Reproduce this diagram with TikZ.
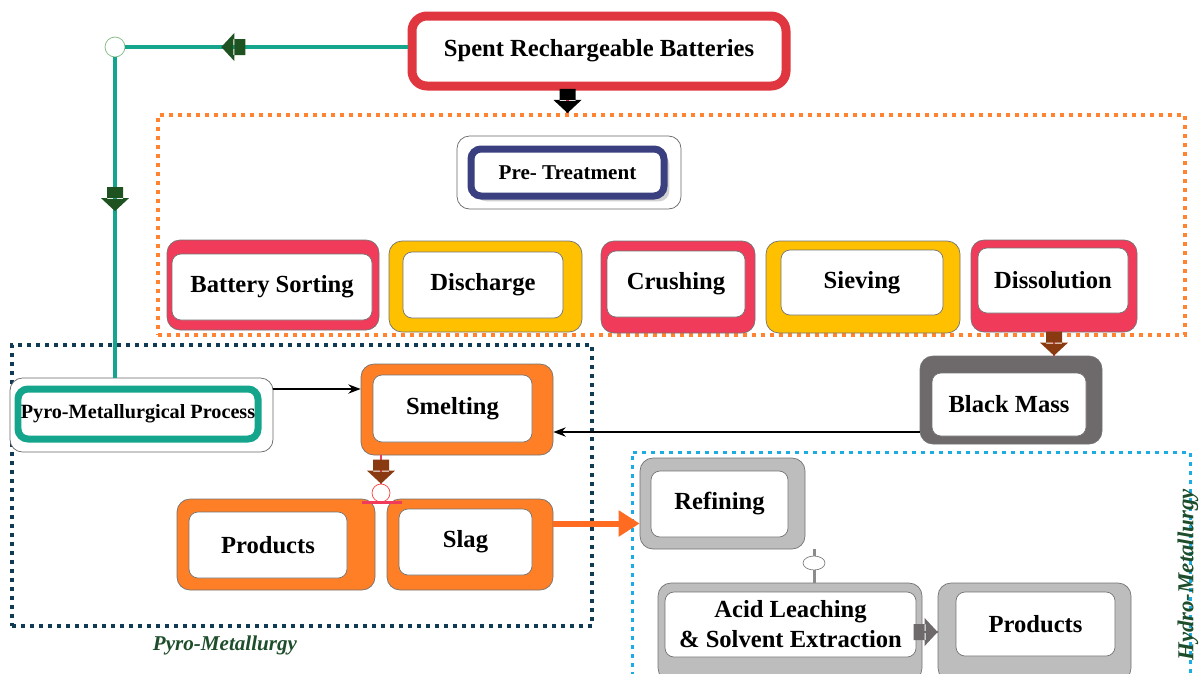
\documentclass[tikz,border=0pt]{standalone}
\usepackage{fontspec}
\setmainfont{Liberation Serif}
\usepackage{xcolor}
\usetikzlibrary{arrows.meta, positioning, fit, shadows, shapes.geometric, decorations.markings}

\definecolor{spentred}{HTML}{E0363F}
\definecolor{rowred}{HTML}{F03C5A}
\definecolor{amber}{HTML}{FFC000}
\definecolor{smeltorange}{HTML}{FF7F27}
\definecolor{massgray}{HTML}{6E6A6B}
\definecolor{hydrogray}{HTML}{BDBDBD}
\definecolor{tealline}{HTML}{14A58C}
\definecolor{navyedge}{HTML}{3A3F7F}
\definecolor{leafgreen}{HTML}{1E5221}
\definecolor{rustbrown}{HTML}{8A3A10}
\definecolor{pyronavy}{HTML}{113A55}
\definecolor{hydrocyan}{HTML}{1AACE3}
\definecolor{dotorange}{HTML}{FF8330}
\definecolor{labelgreen}{HTML}{1D4D2A}

\begin{document}
\begin{tikzpicture}[
  x=0.02cm, y=-0.02cm,
  txt/.style      = {font=\fontsize{14}{17}\selectfont\bfseries, align=center,
                     inner sep=0pt},
  outer/.style    = {draw=black!55, fill=#1, rounded corners=0.26cm,
                     inner sep=0pt, thin},
  inner/.style    = {draw=black!55, fill=white, rounded corners=0.18cm,
                     inner sep=0pt, label={[txt]center:#1}},
  zone/.style     = {line width=0.08cm, dash pattern=on 0.08cm off 0.1cm,
                     inner sep=0pt},
  arr/.style      = {-{Stealth[length=7pt]}, line width=0.05cm},
  fatarrow/.style 2 args = {postaction={decorate, decoration={markings,
      mark=at position #1 with {\fill[#2, sharp corners]
        (-24,-8) rectangle (-12,8) (-13,-14) -- (0,0) -- (-13,14) -- cycle;}}}},
  zonelabel/.style = {font=\fontsize{12}{14}\selectfont\bfseries\itshape,
                      text=labelgreen}
]
\clip (0,0) rectangle (1199,673);

%% ---- ZONES ----
\node[zone, draw=dotorange, fit={(158,115) (1185,335)}] (prezone) {};
\node[zone, draw=pyronavy, fit={(12,345) (592,626)}]    (pyrozone) {};
\node[zone, draw=hydrocyan, line width=0.06cm,
      fit={(632,452) (1190,700)}]                       (hydrozone) {};

%% ---- SOURCE ----
\node[draw=spentred, line width=0.18cm, fill=white, rounded corners=0.3cm,
      inner sep=0pt, fit={(412,16) (786,86)},
      label={[txt]center:Spent Rechargeable Batteries}] (spent) {};

%% ---- PRE-TREATMENT ----
\node[draw=black!60, fill=white, rounded corners=0.25cm, inner sep=0pt,
      fit={(457,136) (681,209)}] (ptback) {};
\node[draw=navyedge, line width=0.14cm, fill=white, rounded corners=0.2cm,
      drop shadow={shadow xshift=3pt, shadow yshift=-3pt, opacity=0.35},
      inner sep=0pt, fit={(471,149) (664,196)},
      label={[txt, font=\fontsize{12}{14}\selectfont\bfseries]center:Pre- Treatment}] (pretreat) {};

% steps
\node[outer=rowred, fit={(167,240) (379,330)}]  (bsO) {};
\node[inner=Battery Sorting, fit={(172,254) (372,320)}] (bs) {};
\node[outer=amber, fit={(389,241) (582,332)}]   (dcO) {};
\node[inner=Discharge, fit={(403,252) (563,318)}]       (dc) {};
\node[outer=rowred, fit={(601,241) (755,333)}]  (crO) {};
\node[inner=Crushing, fit={(607,251) (745,317)}]        (cr) {};
\node[outer=amber, fit={(766,241) (960,333)}]   (svO) {};
\node[inner=Sieving, fit={(781,250) (943,315)}]         (sv) {};
\node[outer=rowred, fit={(971,240) (1137,332)}] (disO) {};
\node[inner=Dissolution, fit={(978,248) (1128,313)}]    (dis) {};

\node[outer=massgray, fit={(920,356) (1102,444)}] (bmO) {};
\node[inner=Black Mass, fit={(932,373) (1086,436)}]     (bm) {};

%% ---- PYRO ----
\node[draw=black!60, fill=white, rounded corners=0.25cm, inner sep=0pt,
      fit={(10,378) (273,452)}] (ppback) {};
\node[draw=tealline, line width=0.14cm, fill=white, rounded corners=0.2cm,
      inner sep=0pt, fit={(18,389) (258,439)},
      label={[txt, font=\fontsize{11.5}{13}\selectfont\bfseries]center:Pyro-Metallurgical Process}] (pp) {};

\node[outer=smeltorange, fit={(361,364) (553,455)}] (smO) {};
\node[inner=Smelting, fit={(373,375) (532,442)}]        (sm) {};
\node[outer=smeltorange, fit={(177,499) (375,590)}] (prO) {};
\node[inner=Products, fit={(189,512) (347,578)}]        (pr) {};
\node[outer=smeltorange, fit={(387,499) (553,590)}] (slO) {};
\node[inner=Slag, fit={(399,509) (532,575)}]            (sl) {};

%% ---- HYDRO ----
\node[outer=hydrogray, fit={(640,458) (805,549)}]  (refO) {};
\node[inner=Refining, fit={(651,471) (788,537)}]        (ref) {};
\node[outer=hydrogray, fit={(658,583) (922,681)}]  (acO) {};
\node[inner={Acid Leaching\\\& Solvent Extraction}, fit={(665,592) (916,657)}] (ac) {};
\node[outer=hydrogray, fit={(938,583) (1131,681)}] (hpO) {};
\node[inner=Products, fit={(956,592) (1115,656)}]       (hp) {};

% junctions
\node[circle, draw=green!45!black!50, fill=white, minimum size=0.4cm,
      inner sep=0pt] (tj) at (115,47) {};
\node[circle, draw=red!75, fill=white, minimum size=0.36cm,
      inner sep=0pt] (sj) at (381,493) {};
\node[ellipse, draw=black!50, fill=white, minimum width=0.44cm,
      minimum height=0.28cm, inner sep=0pt] (ej) at (814,563) {};

%% ---- CONNECTORS ----
\draw[tealline, line width=0.08cm, fatarrow={0.66}{leafgreen}] (spent.west |- tj) -- (tj);
\draw[tealline, line width=0.08cm, fatarrow={0.48}{leafgreen}] (tj) -- (tj |- ppback.north);
\draw[spentred, line width=0.06cm, fatarrow={0.999}{black}]
  (spent.south -| pretreat.north) -- (pretreat.north |- prezone.north);
\draw[rowred, line width=0.05cm, fatarrow={0.999}{rustbrown}] (disO.south) -- (disO.south |- bmO.north);
\draw[arr] ([yshift=-0.64cm]bmO.west) -- ([yshift=-0.64cm]bmO.west -| smO.east);
\draw[arr] ([yshift=0.52cm]ppback.east) -- ([yshift=0.52cm]ppback.east -| smO.west);
\draw[rowred, line width=0.04cm, fatarrow={0.999}{rustbrown}] (smO.south -| sj) -- (sj);
\draw[rowred, line width=0.06cm] ([xshift=-0.38cm]sj.south) -- ([xshift=0.42cm]sj.south);
\draw[smeltorange!85!red, line width=0.12cm, -{Triangle[length=0.42cm, width=0.5cm]}]
  ([yshift=0.42cm]slO.east) -- ([yshift=0.42cm]slO.east -| refO.west);
\draw[black!45, line width=0.06cm] (refO.south -| ej) -- (ej) -- (ej |- acO.north);
\draw[massgray, line width=0.04cm, fatarrow={0.999}{massgray}] (acO.east) -- (hpO.west);

% zone labels
\node[zonelabel] (pyrolabel) at (225,645) {Pyro-Metallurgy};
\node[zonelabel, font=\fontsize{13}{15}\selectfont\bfseries\itshape,
      rotate=90] (hydrolabel) at (1188,575) {Hydro-Metallurgy};

\end{tikzpicture}
\end{document}
